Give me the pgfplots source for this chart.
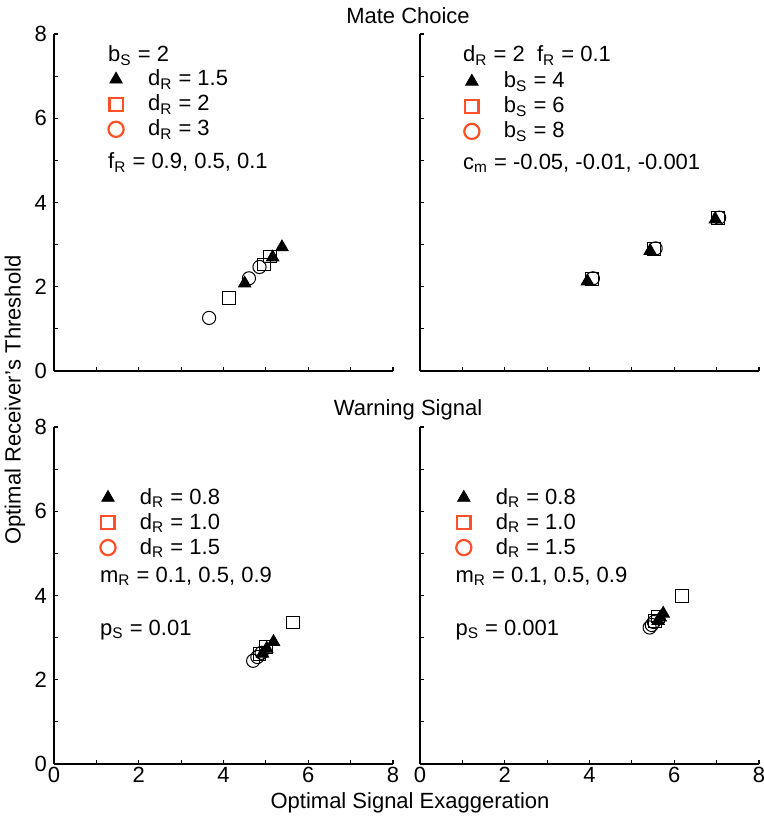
\documentclass[border=0pt]{standalone}
\usepackage{fontspec}
\setmainfont{Liberation Sans}
\usepackage{pgfplots}
\pgfplotsset{compat=1.18}
\definecolor{keyred}{RGB}{255,80,40}
\newcommand{\fs}{\fontsize{11}{13}\selectfont}
\pgfplotsset{
  panel/.style={
    scale only axis, width=169.5pt, height=168.5pt,
    xmin=0, xmax=8, ymin=0, ymax=8,
    axis lines=left,
    axis line style={line width=0.6pt,-},
    tick align=inside,
    xtick={0,2,...,8}, ytick={0,2,...,8},
    minor xtick={1,3,5,7}, minor ytick={1,3,5,7},
    major tick length=2pt, minor tick length=2pt,
    every tick/.style={black,line width=0.6pt},
    /pgf/number format/assume math mode=true,
    tick label style={font=\fs},
    xticklabel style={inner sep=1.5pt},
    anchor=south west,
    clip=false,
    legend cell align=left,
    legend style={draw=none, fill=none, font=\fs, anchor=west,
      row sep=1pt, nodes={inner sep=1pt}},
    legend image code/.code={
      \path[draw=none, fill=none] (-6pt,-5.5pt) rectangle (15pt,5.5pt);
      \draw[#1] plot coordinates {(0pt,0pt)};},
  },
  tri/.style={only marks, mark=triangle*, mark size=3.6pt, black, mark options={fill=black}, forget plot},
  sq/.style={only marks, mark=square, mark size=3.2pt, black, mark options={line width=0.5pt, fill=white}, forget plot},
  ci/.style={only marks, mark=o, mark size=3.3pt, black, mark options={line width=0.5pt, fill=white}, forget plot},
  ktri/.style={only marks, mark=triangle*, mark size=3.6pt, black, mark options={fill=black}},
  ksq/.style={only marks, mark=square, mark size=3.3pt, keyred, mark options={line width=1.1pt}},
  kci/.style={only marks, mark=o, mark size=3.8pt, keyred, mark options={line width=1.1pt}},
}
\begin{document}
\begin{tikzpicture}[font=\fs]
\path[use as bounding box] (0pt,0pt) rectangle (382pt,-409pt);

% Mate choice, b_S = 2
\begin{axis}[panel, at={(27pt,-185.5pt)}, xticklabels={},
  legend style={at={(axis cs:1.03,6.33)}}]
\addplot[ci] coordinates {(3.66,1.26) (4.60,2.20) (4.85,2.47)};
\addplot[sq] coordinates {(4.13,1.73) (4.95,2.53) (5.09,2.72)};
\addplot[tri] coordinates {(4.50,2.08) (5.16,2.70) (5.38,2.94)};
\addlegendimage{ktri}\addlegendentry{d\textsubscript{R} = 1.5}
\addlegendimage{ksq}\addlegendentry{d\textsubscript{R} = 2}
\addlegendimage{kci}\addlegendentry{d\textsubscript{R} = 3}
\node[anchor=west, inner sep=0pt] at (axis cs:1.27,7.49) {b\textsubscript{S} = 2};
\node[anchor=west, inner sep=0pt] at (axis cs:1.27,4.95) {f\textsubscript{R} = 0.9, 0.5, 0.1};
\end{axis}

% Mate choice, d_R = 2, f_R = 0.1
\begin{axis}[panel, at={(210pt,-185.5pt)}, xticklabels={}, yticklabels={},
  legend style={at={(axis cs:0.79,6.28)}}]
\addplot[ci] coordinates {(4.08,2.20) (5.56,2.91) (7.06,3.64)};
\addplot[sq] coordinates {(4.05,2.19) (5.53,2.90) (7.03,3.64)};
\addplot[tri] coordinates {(3.95,2.13) (5.43,2.85) (6.97,3.60)};
\addlegendimage{ktri}\addlegendentry{b\textsubscript{S} = 4}
\addlegendimage{ksq}\addlegendentry{b\textsubscript{S} = 6}
\addlegendimage{kci}\addlegendentry{b\textsubscript{S} = 8}
\node[anchor=west, inner sep=0pt] at (axis cs:1.01,7.49) {d\textsubscript{R} = 2\ \ f\textsubscript{R} = 0.1};
\node[anchor=west, inner sep=0pt] at (axis cs:1.01,4.93) {c\textsubscript{m} = -0.05, -0.01, -0.001};
\end{axis}

% Warning signal, p_S = 0.01
\begin{axis}[panel, at={(27pt,-382pt)},
  legend style={at={(axis cs:0.84,5.73)}}]
\addplot[ci] coordinates {(4.70,2.45) (4.80,2.54) (4.90,2.64)};
\addplot[sq] coordinates {(4.85,2.62) (5.00,2.78) (5.64,3.36)};
\addplot[tri] coordinates {(4.92,2.62) (5.02,2.74) (5.18,2.90)};
\addlegendimage{ktri}\addlegendentry{d\textsubscript{R} = 0.8}
\addlegendimage{ksq}\addlegendentry{d\textsubscript{R} = 1.0}
\addlegendimage{kci}\addlegendentry{d\textsubscript{R} = 1.5}
\node[anchor=west, inner sep=0pt] at (axis cs:1.08,4.45) {m\textsubscript{R} = 0.1, 0.5, 0.9};
\node[anchor=west, inner sep=0pt] at (axis cs:1.08,3.19) {p\textsubscript{S} = 0.01};
\end{axis}

% Warning signal, p_S = 0.001
\begin{axis}[panel, at={(210pt,-382pt)}, yticklabels={},
  legend style={at={(axis cs:0.60,5.73)}}]
\addplot[ci] coordinates {(5.42,3.24) (5.47,3.30) (5.52,3.37)};
\addplot[sq] coordinates {(5.55,3.40) (5.62,3.50) (6.19,3.98)};
\addplot[tri] coordinates {(5.62,3.40) (5.67,3.48) (5.74,3.57)};
\addlegendimage{ktri}\addlegendentry{d\textsubscript{R} = 0.8}
\addlegendimage{ksq}\addlegendentry{d\textsubscript{R} = 1.0}
\addlegendimage{kci}\addlegendentry{d\textsubscript{R} = 1.5}
\node[anchor=west, inner sep=0pt] at (axis cs:0.83,4.45) {m\textsubscript{R} = 0.1, 0.5, 0.9};
\node[anchor=west, inner sep=0pt] at (axis cs:0.83,3.19) {p\textsubscript{S} = 0.001};
\end{axis}

\node at (204pt,-8pt) {Mate Choice};
\node at (204pt,-205pt) {Warning Signal};
\node[rotate=90] at (7.5pt,-200pt) {Optimal Receiver's Threshold};
\node[anchor=base, inner sep=0pt] at (205pt,-404pt) {Optimal Signal Exaggeration};
\end{tikzpicture}
\end{document}
